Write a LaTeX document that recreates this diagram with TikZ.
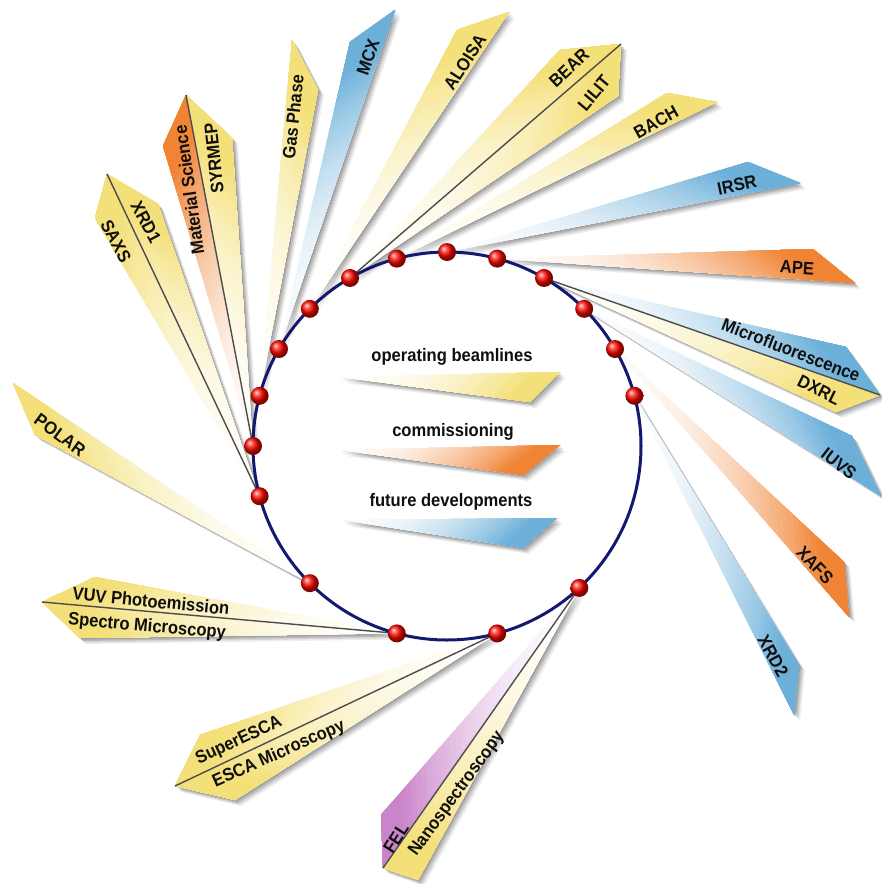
\documentclass[tikz,border=0pt]{standalone}
\usepackage{fontspec}
\newfontfamily\labf[FakeStretch=0.92]{Liberation Sans}
\usetikzlibrary{calc}
\definecolor{yel}{RGB}{244,224,120}
\definecolor{org}{RGB}{240,132,52}
\definecolor{blu}{RGB}{108,176,218}
\definecolor{pur}{RGB}{202,132,202}
\definecolor{ringc}{RGB}{20,24,110}
\definecolor{txt}{RGB}{15,15,15}
\newcommand\beamfill[4]{%
  \foreach \k in {0,...,39}{%
    \pgfmathsetmacro\bt{\k/40}%
    \pgfmathsetmacro\bu{(\k+0.5)/40/0.9}%
    \pgfmathtruncatemacro\bm{min(100,4+96*\bu*\bu)}%
    \fill[#4!\bm!white] ($(#1)!\bt!(#2)$) -- (#2) -- (#3) -- ($(#1)!\bt!(#3)$) -- cycle;
  }}
\newcommand\shad[1]{%
  \fill[black,opacity=.13,transform canvas={shift={(1.5,1.5)}}] #1 -- cycle;
  \fill[black,opacity=.13,transform canvas={shift={(3,3)}}] #1 -- cycle;
  \fill[black,opacity=.10,transform canvas={shift={(4.5,4.5)}}] #1 -- cycle;
  \fill[black,opacity=.07,transform canvas={shift={(6,6)}}] #1 -- cycle;
}
\tikzset{
  lab/.style={font=\labf\bfseries\fontsize{18}{20}\selectfont, text=txt, inner sep=0pt},
  divider/.style={draw=black!70, line width=1.4pt},
  dot/.style={circle, minimum size=18pt, inner sep=0pt, ball color=red!92!orange},
}
\begin{document}
\begin{tikzpicture}[x=1pt,y=-1pt]
\useasboundingbox (0,0) rectangle (882,884);
\fill[white] (0,0) rectangle (882,884);
\coordinate (c) at (447,446);
\foreach \a/\n in {180/1,195/2,165/3,150/4,135/5,120/6,105/7,90/8,75/9,60/10,45/11,30/12,15/13,225/14,255/15,285/16,313/17}
  \coordinate (p\n) at ($(c)+(\a:194pt)$);
% end points
\coordinate (polA) at (35,435); \coordinate (polT) at (13,383);
\coordinate (saxT) at (107,174); \coordinate (saxA) at (95,218); \coordinate (xrdA) at (158,204);
\coordinate (msT) at (186,95); \coordinate (msA) at (163,146); \coordinate (syA) at (232,138);
\coordinate (gasT) at (292,40); \coordinate (gasA) at (318,90);
\coordinate (mcxT) at (395,10); \coordinate (mcxA) at (350,42);
\coordinate (aloT) at (509,12); \coordinate (aloA) at (457,30);
\coordinate (beT) at (621,44); \coordinate (beA) at (560,50); \coordinate (liA) at (618,96);
\coordinate (baA) at (667,93); \coordinate (baT) at (717,102);
\coordinate (irA) at (748,162); \coordinate (irT) at (800,183);
\coordinate (apA) at (813,249); \coordinate (apT) at (855,283);
\coordinate (miT) at (880,395); \coordinate (miA) at (846,347); \coordinate (dxA) at (836,412);
\coordinate (iuA) at (852,436); \coordinate (iuT) at (881,496);
\coordinate (xaA) at (844,562); \coordinate (xaT) at (849,617);
\coordinate (x2A) at (799,665); \coordinate (x2T) at (794,715);
\coordinate (vuT) at (42,602); \coordinate (vuA) at (95,577); \coordinate (spA) at (80,638);
\coordinate (seT) at (175,786); \coordinate (seA) at (200,735); \coordinate (esA) at (235,800);
\coordinate (feT) at (383,868); \coordinate (feA) at (381,815); \coordinate (naA) at (418,880);
% legend wedges
\coordinate (g1L) at (340,377); \coordinate (g1R) at (560,372); \coordinate (g1T) at (530,402);
\coordinate (g2L) at (340,450); \coordinate (g2R) at (560,445); \coordinate (g2T) at (523,475);
\coordinate (g3L) at (342,520); \coordinate (g3R) at (557,518); \coordinate (g3T) at (523,548);

% beams, top-left group
\shad{(p2)--(saxA)--(saxT)--(xrdA)} \beamfill{p2}{saxA}{saxT}{yel} \beamfill{p2}{xrdA}{saxT}{yel} \draw[divider] (p2)--(saxT);
\shad{(p1)--(msA)--(msT)--(syA)} \beamfill{p1}{msA}{msT}{org} \beamfill{p1}{syA}{msT}{yel} \draw[divider] (p1)--(msT);
\shad{(p3)--(gasT)--(gasA)} \beamfill{p3}{gasT}{gasA}{yel}
\shad{(p4)--(mcxA)--(mcxT)} \beamfill{p4}{mcxA}{mcxT}{blu}
\shad{(p5)--(aloA)--(aloT)} \beamfill{p5}{aloA}{aloT}{yel}
\shad{(p6)--(beA)--(beT)--(liA)} \beamfill{p6}{beA}{beT}{yel} \beamfill{p6}{liA}{beT}{yel} \draw[divider] (p6)--(beT);
\shad{(p7)--(baA)--(baT)} \beamfill{p7}{baA}{baT}{yel}
\shad{(p8)--(irA)--(irT)} \beamfill{p8}{irA}{irT}{blu}
\shad{(p9)--(apA)--(apT)} \beamfill{p9}{apA}{apT}{org}
% right group
\shad{(p10)--(miA)--(miT)--(dxA)} \beamfill{p10}{miA}{miT}{blu} \beamfill{p10}{dxA}{miT}{yel} \draw[divider] (p10)--(miT);
\shad{(p11)--(iuA)--(iuT)} \beamfill{p11}{iuA}{iuT}{blu}
\shad{(p12)--(xaA)--(xaT)} \beamfill{p12}{xaA}{xaT}{org}
\shad{(p13)--(x2A)--(x2T)} \beamfill{p13}{x2A}{x2T}{blu}
% bottom group
\shad{(p14)--(polA)--(polT)} \beamfill{p14}{polA}{polT}{yel}
\shad{(p15)--(vuA)--(vuT)--(spA)} \beamfill{p15}{vuA}{vuT}{yel} \beamfill{p15}{spA}{vuT}{yel} \draw[divider] (p15)--(vuT);
\shad{(p16)--(seA)--(seT)--(esA)} \beamfill{p16}{seA}{seT}{yel} \beamfill{p16}{esA}{seT}{yel} \draw[divider] (p16)--(seT);
\shad{(p17)--(feA)--(feT)--(naA)} \beamfill{p17}{feA}{feT}{pur} \beamfill{p17}{naA}{feT}{yel} \draw[divider] (p17)--(feT);

% legend
\shad{(g1L)--(g1R)--(g1T)} \beamfill{g1L}{g1R}{g1T}{yel}
\shad{(g2L)--(g2R)--(g2T)} \beamfill{g2L}{g2R}{g2T}{org}
\shad{(g3L)--(g3R)--(g3T)} \beamfill{g3L}{g3R}{g3T}{blu}
\node[lab] (lg1) at (452,357) {operating beamlines};
\node[lab] (lg2) at (453,432) {commissioning};
\node[lab] (lg3) at (451,502) {future developments};

% labels
\node[lab, rotate=-36] (lPOLAR) at (60,435) {POLAR};
\node[lab, rotate=-62] (lSAXS) at (116,241) {SAXS};
\node[lab, rotate=-62] (lXRD1) at (146,222) {XRD1};
\node[lab, rotate=98] (lMS) at (189,190) {Material Science};
\node[lab, rotate=96] (lSY) at (214,158) {SYRMEP};
\node[lab, rotate=84] (lGas) at (293,117) {Gas Phase};
\node[lab, rotate=71] (lMCX) at (368,57) {MCX};
\node[lab, rotate=57] (lALO) at (465,62) {ALOISA};
\node[lab, rotate=43] (lBEAR) at (569,68) {BEAR};
\node[lab, rotate=50] (lLILIT) at (594,93) {LILIT};
\node[lab, rotate=29] (lBACH) at (656,122) {BACH};
\node[lab, rotate=12] (lIRSR) at (737,185) {IRSR};
\node[lab, rotate=-4] (lAPE) at (797,268) {APE};
\node[lab, rotate=-21] (lMic) at (791,350) {Microfluorescence};
\node[lab, rotate=-26] (lDX) at (819,390) {DXRL};
\node[lab, rotate=-38] (lIU) at (839,464) {IUVS};
\node[lab, rotate=-47] (lXA) at (815,565) {XAFS};
\node[lab, rotate=-61] (lX2) at (773,656) {XRD2};
\node[lab, rotate=-5.5] (lVUV) at (151,601) {VUV Photoemission};
\node[lab, rotate=-5] (lSp) at (147,627) {Spectro Microscopy};
\node[lab, rotate=25] (lSE) at (239,741) {SuperESCA};
\node[lab, rotate=24] (lES) at (279,754) {ESCA Microscopy};
\node[lab, rotate=57] (lFEL) at (396,838) {FEL};
\node[lab, rotate=54] (lNano) at (457,794) {Nanospectroscopy};

% ring and bunches
\draw[ringc, line width=3pt] (c) circle[radius=194pt];
\foreach \n in {1,...,17} \node[dot] (d\n) at (p\n) {};
\end{tikzpicture}
\end{document}
